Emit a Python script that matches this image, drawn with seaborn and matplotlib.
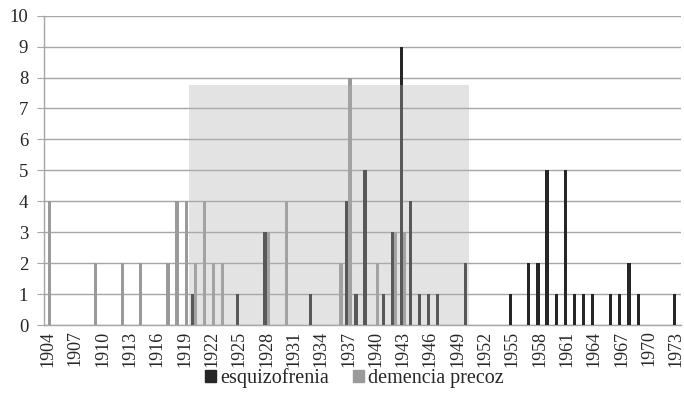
import matplotlib
matplotlib.use("Agg")
import matplotlib.pyplot as plt
import pandas as pd
import seaborn as sns
from matplotlib.patches import Patch

# years 1904..1973, one count per year for each diagnosis
years = list(range(1904, 1974))

esquizofrenia = {
    1920: 1, 1925: 1, 1928: 3, 1933: 1, 1937: 4, 1938: 1, 1939: 5, 1941: 1,
    1942: 3, 1943: 9, 1944: 4, 1945: 1, 1946: 1, 1947: 1, 1950: 2,
    1955: 1, 1957: 2, 1958: 2, 1959: 5, 1960: 1, 1961: 5, 1962: 1, 1963: 1,
    1964: 1, 1966: 1, 1967: 1, 1968: 2, 1969: 1, 1973: 1,
}
demencia_precoz = {
    1904: 4, 1909: 2, 1912: 2, 1914: 2, 1917: 2, 1918: 4, 1919: 4, 1920: 2,
    1921: 4, 1922: 2, 1923: 2, 1928: 3, 1930: 4, 1936: 2, 1937: 8, 1940: 2,
    1942: 3, 1943: 3,
}
series_names = ["esquizofrenia", "demencia precoz"]
series_colors = ["#262626", "#9a9a9a"]

# highlighted period (as category positions) and its height
span_start, span_end, span_top = 15.5, 46.2, 7.76

rows = []
for y in years:
    rows.append({"year": str(y), "serie": series_names[0], "n": esquizofrenia.get(y, 0)})
    rows.append({"year": str(y), "serie": series_names[1], "n": demencia_precoz.get(y, 0)})
df = pd.DataFrame(rows)

sns.set_style("white")
plt.rcParams["font.family"] = ["Liberation Serif", "DejaVu Serif"]

fig = plt.figure(figsize=(6.84, 4.17), dpi=100)
ax = fig.add_axes([0.0636, 0.2206, 0.9315, 0.7418])

sns.barplot(
    data=df, x="year", y="n", hue="serie", hue_order=series_names,
    palette=series_colors, width=0.7, gap=0, saturation=1,
    linewidth=0, legend=False, ax=ax, zorder=3,
)

# translucent grey box over the bars, like the original
ax.axvspan(span_start, span_end, ymin=0, ymax=span_top / 10,
           color="#b2b2b2", alpha=0.36, lw=0, zorder=4)

ax.set_ylim(0, 10)
ax.set_xlim(-0.5, len(years) - 0.5)
ax.set_yticks(range(0, 11))
ax.yaxis.grid(True, color="#a6a6a6", lw=1, zorder=1)
ax.set_axisbelow(True)

ax.set_xticks(range(0, len(years), 3))
ax.set_xticklabels([str(y) for y in years[::3]], rotation=90)
ax.set_xticks([k - 0.5 for k in range(len(years) + 1)], minor=True)
ax.tick_params(axis="x", which="major", length=0, labelsize=13, pad=4)
ax.tick_params(axis="x", which="minor", length=4, color="#a6a6a6", direction="out")
ax.tick_params(axis="y", length=5, color="#a6a6a6", labelsize=13.5, pad=6, direction="out", left=True)
ax.set_xlabel("")
ax.set_ylabel("")

for side in ["top", "right"]:
    ax.spines[side].set_visible(False)
for side in ["left", "bottom"]:
    ax.spines[side].set_color("#a6a6a6")
    ax.spines[side].set_linewidth(1)

handles = [Patch(color=c, label=n) for n, c in zip(series_names, series_colors)]
fig.legend(handles=handles, loc="center", bbox_to_anchor=(0.518, 0.094), ncol=2,
           frameon=False, fontsize=14.5, handlelength=0.55, handleheight=0.55,
           handletextpad=0.2, columnspacing=1.2)

fig.savefig("out.png", dpi=100)
